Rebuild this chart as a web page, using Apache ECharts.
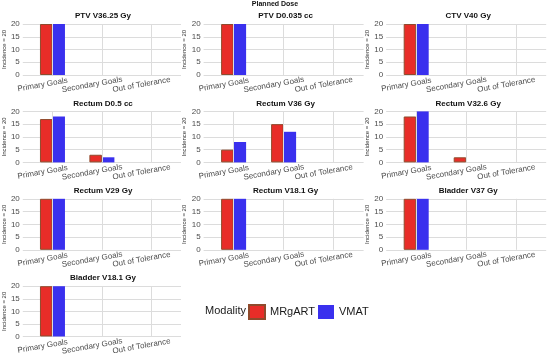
<!DOCTYPE html>
<html>
<head>
<meta charset="utf-8">
<script src="https://cdn.jsdelivr.net/npm/echarts@6/dist/echarts.min.js"></script>
<style>html,body{margin:0;padding:0;background:#fff}#c{width:550px;height:356px}</style>
</head>
<body>
<div id="c"></div>
<script>
const categories = ['Primary Goals', 'Secondary Goals', 'Out of Tolerance'];
const panelTitles = ['PTV V36.25 Gy', 'PTV D0.035 cc', 'CTV V40 Gy', 'Rectum D0.5 cc', 'Rectum V36 Gy', 'Rectum V32.6 Gy', 'Rectum V29 Gy', 'Rectum V18.1 Gy', 'Bladder V37 Gy', 'Bladder V18.1 Gy'];
const mrgartCounts = [[20,0,0],[20,0,0],[20,0,0],[17,3,0],[5,15,0],[18,2,0],[20,0,0],[20,0,0],[20,0,0],[20,0,0]];
const vmatCounts   = [[20,0,0],[20,0,0],[20,0,0],[18,2,0],[8,12,0],[20,0,0],[20,0,0],[20,0,0],[20,0,0],[20,0,0]];
const yTicks = [0, 5, 10, 15, 20];
const seriesNames = ['MRgART', 'VMAT'];
const mainTitle = 'Planned Dose';
const yAxisTitle = 'Incidence = 20';
const legendTitle = 'Modality';

const FONT = 'Liberation Sans, Arial, sans-serif';
const RED = '#e82d28', RED_BORDER = '#8f4a2c', BLUE = '#3a30ee';
const GRIDC = '#dcdcdc';

const chart = echarts.init(document.getElementById('c'), null, {renderer: 'canvas'});
const grids = [], xAxes = [], yAxes = [], series = [];
const titles = [{text: mainTitle, left: 'center', top: 1, padding: 0, textStyle: {fontSize: 7, fontWeight: 'bold', color: '#111', fontFamily: FONT}}];

panelTitles.forEach((t, i) => {
  const col = i % 3, row = Math.floor(i / 3);
  const left = 21 + col * 182.6, top = 24 + row * 87.4, w = 160, h = 51;
  grids.push({left: left, top: top, width: w, height: h, containLabel: false});
  titles.push({text: t, left: left + w / 2 + 2, top: top - 12, padding: 0, textAlign: 'center',
    textStyle: {fontSize: 8, fontWeight: 'bold', color: '#111', fontFamily: FONT}});
  xAxes.push({gridIndex: i, type: 'value', min: 0.4, max: 3.6,
    axisLine: {show: false}, axisTick: {show: false}, splitLine: {show: false},
    axisLabel: {customValues: [1, 2, 3], formatter: v => categories[Math.round(v) - 1] || '',
      rotate: 10, align: 'center', verticalAlign: 'middle', margin: 8, padding: [0, 20, 0, 0],
      fontSize: 8, color: '#4d4d4d', fontFamily: FONT}});
  yAxes.push({gridIndex: i, type: 'value', min: yTicks[0], max: yTicks[yTicks.length - 1], interval: 5,
    axisLine: {show: false}, axisTick: {show: false},
    splitLine: {lineStyle: {color: GRIDC, width: 1}},
    axisLabel: {fontSize: 8, color: '#4d4d4d', margin: 3, fontFamily: FONT},
    name: yAxisTitle, nameLocation: 'middle', nameRotate: 90, nameGap: 12,
    nameTextStyle: {fontSize: 6, color: '#333', fontFamily: FONT}});
  series.push({type: 'line', data: [], xAxisIndex: i, yAxisIndex: i, z: 1, silent: true,
    markLine: {silent: true, symbol: ['none', 'none'], label: {show: false},
      lineStyle: {color: GRIDC, type: 'solid', width: 1},
      data: [1, 2, 3].map(v => ({xAxis: v}))}});
  [mrgartCounts[i], vmatCounts[i]].forEach((vals, s) => {
    series.push({type: 'bar', name: seriesNames[s], xAxisIndex: i, yAxisIndex: i,
      barWidth: 12.5, barGap: '0%', z: 2,
      itemStyle: s === 0 ? {color: RED, borderColor: RED_BORDER, borderWidth: 1} : {color: BLUE},
      data: vals.map((v, k) => [k + 1, v === 0 ? null : v])});
  });
});

titles.push({text: legendTitle, left: 205, top: 305, padding: 0, textStyle: {fontSize: 11, fontWeight: 'normal', color: '#1a1a1a', fontFamily: FONT}});

chart.setOption({
  animation: false,
  backgroundColor: '#fff',
  title: titles,
  grid: grids, xAxis: xAxes, yAxis: yAxes, series: series,
  legend: {data: seriesNames, left: 248, top: 304, padding: 0, icon: 'rect', itemWidth: 16, itemHeight: 14, itemGap: 3,
    textStyle: {fontSize: 11, color: '#1a1a1a', fontFamily: FONT}}
});
</script>
</body>
</html>
